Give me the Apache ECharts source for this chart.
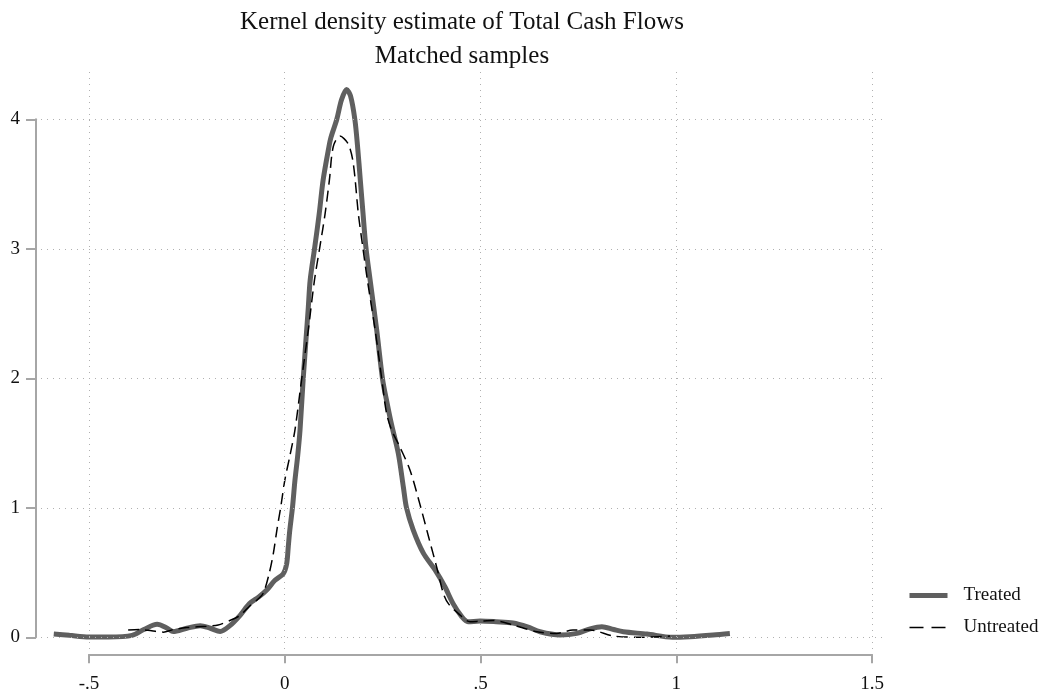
<!DOCTYPE html>
<html>
<head>
<meta charset="utf-8">
<script src="https://cdn.jsdelivr.net/npm/echarts@6/dist/echarts.min.js"></script>
<style>
html,body{margin:0;padding:0;background:#fff;}
#chart{width:1048px;height:697px;}
</style>
</head>
<body>
<div id="chart"></div>
<script>
var titleText = "Kernel density estimate of Total Cash Flows";
var subtitleText = "Matched samples";
var seriesNames = ["Treated", "Untreated"];
var xTicks = [-0.5, 0, 0.5, 1, 1.5];
var xTickLabels = ["-.5", "0", ".5", "1", "1.5"];
var yTicks = [0, 1, 2, 3, 4];
var yTickLabels = ["0", "1", "2", "3", "4"];

var treated = [
  [-0.59,0.025],[-0.55,0.015],[-0.5,0.003],[-0.45,0.003],[-0.39,0.015],[-0.36,0.06],
  [-0.326,0.10],[-0.3,0.07],[-0.285,0.045],[-0.25,0.07],[-0.216,0.09],[-0.19,0.07],
  [-0.165,0.045],[-0.14,0.09],[-0.114,0.17],[-0.09,0.26],[-0.067,0.31],[-0.046,0.365],
  [-0.025,0.44],[-0.004,0.49],[0.005,0.57],[0.009,0.70],[0.013,0.83],[0.020,1.01],
  [0.026,1.21],[0.033,1.40],[0.039,1.60],[0.047,1.99],[0.060,2.54],[0.065,2.76],
  [0.077,3.02],[0.088,3.27],[0.098,3.53],[0.113,3.79],[0.118,3.86],[0.133,4.0],
  [0.145,4.15],[0.158,4.23],[0.168,4.18],[0.179,4.0],[0.186,3.79],[0.193,3.53],
  [0.200,3.27],[0.207,3.02],[0.218,2.76],[0.235,2.37],[0.25,1.99],[0.262,1.8],
  [0.273,1.64],[0.29,1.42],[0.303,1.16],[0.311,1.0],[0.328,0.83],[0.354,0.65],
  [0.384,0.52],[0.409,0.39],[0.43,0.26],[0.452,0.16],[0.468,0.12],[0.499,0.126],
  [0.54,0.12],[0.583,0.11],[0.62,0.08],[0.652,0.043],[0.703,0.018],[0.746,0.03],
  [0.78,0.065],[0.81,0.082],[0.84,0.06],[0.865,0.043],[0.925,0.025],[0.99,0.0],
  [1.035,0.005],[1.094,0.018],[1.137,0.03]
];

var untreated = [
  [-0.40,0.056],[-0.37,0.06],[-0.34,0.05],[-0.31,0.04],[-0.285,0.06],[-0.25,0.075],
  [-0.2,0.085],[-0.17,0.095],[-0.14,0.13],[-0.114,0.17],[-0.09,0.24],[-0.07,0.29],
  [-0.055,0.34],[-0.04,0.49],[-0.029,0.65],[-0.02,0.83],[-0.01,1.01],[0.0,1.21],
  [0.013,1.40],[0.026,1.60],[0.043,1.99],[0.060,2.37],[0.076,2.76],[0.09,3.02],
  [0.103,3.27],[0.114,3.53],[0.124,3.79],[0.141,3.87],[0.162,3.81],[0.175,3.66],
  [0.188,3.27],[0.199,3.02],[0.211,2.76],[0.231,2.37],[0.248,1.99],[0.26,1.73],
  [0.273,1.60],[0.294,1.47],[0.32,1.29],[0.345,1.03],[0.367,0.78],[0.39,0.52],
  [0.405,0.34],[0.418,0.26],[0.443,0.185],[0.473,0.12],[0.5,0.125],[0.532,0.13],
  [0.583,0.095],[0.644,0.043],[0.694,0.03],[0.736,0.056],[0.78,0.056],[0.84,0.01],
  [0.907,0.0],[0.984,0.01]
];

var FONT = "'Liberation Serif', 'DejaVu Serif', serif";
var TXT = '#111111';
var AXC = '#a6a6a6';
var TREATED_C = '#5f5f5f';

function fmt(labels, ticks) {
  return function (v) {
    for (var i = 0; i < ticks.length; i++) {
      if (Math.abs(ticks[i] - v) < 1e-9) return labels[i];
    }
    return '';
  };
}

var gridMarks = [];
xTicks.forEach(function (v) { gridMarks.push({ xAxis: v }); });
yTicks.forEach(function (v) { gridMarks.push({ yAxis: v }); });

var chart = echarts.init(document.getElementById('chart'), null, { renderer: 'canvas' });
chart.setOption({
  animation: false,
  backgroundColor: '#ffffff',
  title: {
    text: titleText + '\n' + subtitleText,
    left: 457,
    top: 0,
    textAlign: 'center',
    textStyle: { fontFamily: FONT, fontSize: 25, fontWeight: 'normal', color: TXT, lineHeight: 34 }
  },
  legend: {
    orient: 'vertical',
    left: 902,
    top: 581,
    itemWidth: 38,
    itemHeight: 12,
    itemGap: 13,
    itemStyle: { opacity: 0 },
    data: [
      { name: seriesNames[0], lineStyle: { width: 5, color: TREATED_C, type: 'solid' } },
      { name: seriesNames[1], lineStyle: { width: 1.5, color: '#000000', type: [14, 8] } }
    ],
    textStyle: { fontFamily: FONT, fontSize: 19, color: TXT, padding: [0, 0, 0, 11] }
  },
  grid: [
    { left: 41, right: 163, top: 72, bottom: 48 },
    { left: 89, right: 176, top: 119.3, bottom: 59.7 }
  ],
  xAxis: [
    { type: 'value', gridIndex: 0, min: -0.6226, max: 1.5332, show: false },
    {
      type: 'value', gridIndex: 1, min: -0.5, max: 1.5, interval: 0.5,
      position: 'bottom', offset: 17,
      axisLine: { show: true, onZero: false, lineStyle: { color: AXC, width: 2 } },
      axisTick: { show: true, length: 9, lineStyle: { color: AXC, width: 2 } },
      splitLine: { show: false },
      axisLabel: { margin: 20, fontFamily: FONT, fontSize: 19, color: TXT, formatter: fmt(xTickLabels, xTicks) }
    }
  ],
  yAxis: [
    { type: 'value', gridIndex: 0, min: -0.0903, max: 4.365, show: false },
    {
      type: 'value', gridIndex: 1, min: 0, max: 4, interval: 1,
      position: 'left', offset: 53,
      axisLine: { show: true, onZero: false, lineStyle: { color: AXC, width: 2 } },
      axisTick: { show: true, length: 10, lineStyle: { color: AXC, width: 2 } },
      splitLine: { show: false },
      axisLabel: { margin: 16, fontFamily: FONT, fontSize: 19, color: TXT, formatter: fmt(yTickLabels, yTicks) }
    }
  ],
  series: [
    {
      name: '_grid', type: 'line', xAxisIndex: 0, yAxisIndex: 0, data: [], z: 1,
      silent: true,
      markLine: {
        silent: true, symbol: ['none', 'none'], label: { show: false },
        lineStyle: { type: [1, 5], color: '#b0b0b0', width: 1 },
        emphasis: { disabled: true },
        data: gridMarks
      }
    },
    {
      name: seriesNames[0], type: 'line', xAxisIndex: 0, yAxisIndex: 0,
      data: treated, smooth: 0.3, showSymbol: false, symbol: 'none', z: 3,
      lineStyle: { color: TREATED_C, width: 5 },
      itemStyle: { color: TREATED_C }
    },
    {
      name: seriesNames[1], type: 'line', xAxisIndex: 0, yAxisIndex: 0,
      data: untreated, smooth: 0.3, showSymbol: false, symbol: 'none', z: 4,
      lineStyle: { color: '#000000', width: 1.5, type: [11, 6] },
      itemStyle: { color: '#000000' }
    }
  ]
});
</script>
</body>
</html>
